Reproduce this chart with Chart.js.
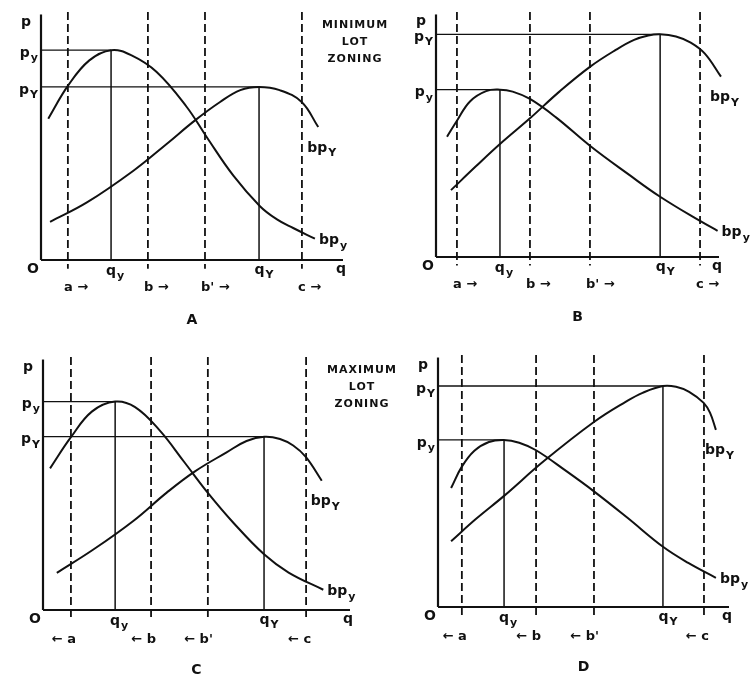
<!DOCTYPE html>
<html>
<head>
<meta charset="utf-8">
<script src="https://cdn.jsdelivr.net/npm/chart.js@4.4.0/dist/chart.umd.min.js"></script>
<style>
  body { margin: 0; background: #fff; }
  #wrap { position: relative; width: 752px; height: 684px; overflow: hidden; }
  canvas { position: absolute; }
</style>
</head>
<body>
<div id="wrap">
  <canvas id="chartA" width="400" height="342" style="left:0;top:0"></canvas>
  <canvas id="chartB" width="376" height="342" style="left:376px;top:0"></canvas>
  <canvas id="chartC" width="400" height="342" style="left:0;top:342px"></canvas>
  <canvas id="chartD" width="376" height="342" style="left:376px;top:342px"></canvas>
</div>
<script>
// q axis runs 0..10, p axis 0..10 in every panel
// dashed lot-size boundaries a, b, b', c
const dashA = [0.89, 3.54, 5.43, 8.64];
const dashB = [0.74, 3.32, 5.44, 9.33];
const dashC = [0.91, 3.52, 5.37, 8.57];
const dashD = [0.82, 3.37, 5.36, 9.14];

// [q_y, q_Y] and [p_y, p_Y]
const qA = [2.32, 7.22], pA = [8.46, 6.98];
const qB = [2.26, 7.92], pB = [6.83, 9.09];
const qC = [2.35, 7.20], pC = [8.24, 6.85];
const qD = [2.27, 7.73], pD = [6.63, 8.77];

// bp_y curves (small lot group)
const bpyAx = [0.24, 0.90, 1.60, 2.32, 3.00, 3.83, 4.82, 5.49, 6.37, 7.25, 7.80, 8.35, 9.07];
const bpyAy = [5.70, 7.04, 8.05, 8.46, 8.25, 7.58, 6.18, 4.95, 3.40, 2.17, 1.65, 1.29, 0.86];
const bpyBx = [0.39, 0.74, 1.20, 1.77, 2.26, 2.71, 3.32, 4.24, 5.45, 6.83, 7.92, 9.33, 9.95];
const bpyBy = [4.91, 5.56, 6.35, 6.77, 6.83, 6.75, 6.45, 5.70, 4.53, 3.35, 2.46, 1.47, 1.07];
const bpyCx = [0.23, 0.91, 1.60, 2.35, 3.00, 3.80, 4.60, 5.39, 6.20, 7.21, 8.00, 9.13];
const bpyCy = [5.60, 6.83, 7.85, 8.24, 8.02, 7.10, 5.85, 4.60, 3.45, 2.19, 1.48, 0.80];
const bpyDx = [0.45, 0.82, 1.25, 1.75, 2.26, 2.79, 3.37, 4.40, 5.37, 6.50, 7.72, 8.60, 9.55];
const bpyDy = [4.72, 5.57, 6.20, 6.55, 6.63, 6.52, 6.22, 5.40, 4.58, 3.55, 2.40, 1.75, 1.16];

// bp_Y curves (large lot group)
const bpYAx = [0.30, 1.52, 3.06, 4.16, 5.10, 5.93, 6.60, 7.22, 7.90, 8.63, 9.18];
const bpYAy = [1.54, 2.32, 3.60, 4.68, 5.63, 6.37, 6.85, 6.98, 6.85, 6.37, 5.36];
const bpYBx = [0.53, 1.41, 2.26, 3.32, 4.36, 5.45, 6.35, 7.00, 7.50, 7.92, 8.48, 9.00, 9.50, 10.07];
const bpYBy = [2.73, 3.70, 4.61, 5.66, 6.75, 7.77, 8.45, 8.86, 9.04, 9.09, 9.00, 8.75, 8.30, 7.36];
const bpYCx = [0.45, 1.64, 2.94, 4.03, 4.95, 5.98, 6.63, 7.21, 7.72, 8.15, 8.56, 9.08];
const bpYCy = [1.47, 2.39, 3.52, 4.64, 5.48, 6.23, 6.68, 6.85, 6.76, 6.50, 6.05, 5.11];
const bpYDx = [0.45, 1.31, 2.26, 3.65, 5.37, 6.46, 7.03, 7.73, 8.18, 8.63, 9.13, 9.35, 9.55];
const bpYDy = [2.61, 3.50, 4.40, 5.80, 7.35, 8.15, 8.50, 8.77, 8.74, 8.54, 8.10, 7.70, 7.03];

const arrowsMin = ["a \u2192", "b \u2192", "b' \u2192", "c \u2192"];
const arrowsMax = ["\u2190 a", "\u2190 b", "\u2190 b'", "\u2190 c"];
const noteMin = ["MINIMUM", "LOT", "ZONING"];
const noteMax = ["MAXIMUM", "LOT", "ZONING"];

const FONT = '"DejaVu Sans", sans-serif';
const INK = '#111';

function zip(xs, ys) {
    return xs.map((x, i) => ({ x: x, y: ys[i] }));
}

function seg(pts, width, dash) {
    return {
        data: pts, showLine: true, borderColor: INK, borderWidth: width,
        borderDash: dash || [], pointRadius: 0, clip: false
    };
}

// base letter with small subscript, e.g. p + y
function drawSub(ctx, base, sub, x, y, align) {
    ctx.font = 'bold 14px ' + FONT;
    const w1 = ctx.measureText(base).width;
    ctx.font = 'bold 11px ' + FONT;
    const w2 = sub ? ctx.measureText(sub).width + 1 : 0;
    let left = x;
    if (align === 'right') left = x - w1 - w2;
    if (align === 'center') left = x - (w1 + w2) / 2;
    ctx.textAlign = 'left';
    ctx.textBaseline = 'middle';
    ctx.font = 'bold 14px ' + FONT;
    ctx.fillText(base, left, y);
    if (sub) {
        ctx.font = 'bold 11px ' + FONT;
        ctx.fillText(sub, left + w1 + 1, y + 5);
    }
}

function makePanel(id, pad, dash, q, p, bpy, bpY, arrows, caption, note) {
    const datasets = [
        seg([{ x: 0, y: 0 }, { x: 10, y: 0 }], 2.2),
        seg([{ x: 0, y: 0 }, { x: 0, y: 9.9 }], 2.2),
        seg([{ x: 0, y: p[0] }, { x: q[0], y: p[0] }], 1.3),
        seg([{ x: 0, y: p[1] }, { x: q[1], y: p[1] }], 1.3),
        seg([{ x: q[0], y: 0 }, { x: q[0], y: p[0] }], 1.5),
        seg([{ x: q[1], y: 0 }, { x: q[1], y: p[1] }], 1.5)
    ];
    dash.forEach(d => datasets.push(seg([{ x: d, y: 10 }, { x: d, y: -0.35 }], 1.8, [8, 4])));
    const c1 = seg(bpy, 2);
    c1.tension = 0.4;
    const c2 = seg(bpY, 2);
    c2.tension = 0.4;
    datasets.push(c1, c2);

    const labels = {
        id: 'labels',
        afterDraw(chart) {
            const ctx = chart.ctx;
            const xs = chart.scales.x, ys = chart.scales.y;
            const X = v => xs.getPixelForValue(v);
            const Y = v => ys.getPixelForValue(v);
            const x0 = X(0), y0 = Y(0);
            ctx.save();
            ctx.fillStyle = INK;
            drawSub(ctx, 'p', '', x0 - 20, Y(9.6), 'left');
            drawSub(ctx, 'p', 'y', x0 - 3, Y(p[0]) + 3, 'right');
            drawSub(ctx, 'p', 'Y', x0 - 3, Y(p[1]) + 3, 'right');
            drawSub(ctx, 'O', '', x0 - 8, y0 + 9, 'center');
            drawSub(ctx, 'q', 'y', X(q[0]) + 4, y0 + 11, 'center');
            drawSub(ctx, 'q', 'Y', X(q[1]) + 5, y0 + 10, 'center');
            drawSub(ctx, 'q', '', X(10) - 2, y0 + 9, 'center');
            const e1 = bpy[bpy.length - 1], e2 = bpY[bpY.length - 1];
            drawSub(ctx, 'bp', 'y', X(e1.x) + 4, Y(e1.y) + 2, 'left');
            drawSub(ctx, 'bp', 'Y', X(e2.x) - 11, Y(e2.y) + 21, 'left');

            ctx.font = 'bold 13px ' + FONT;
            ctx.textBaseline = 'middle';
            arrows.forEach((t, i) => {
                if (t.charAt(0) === '\u2190') {
                    ctx.textAlign = 'right';
                    ctx.fillText(t, X(dash[i]) + 5, y0 + 30);
                } else {
                    ctx.textAlign = 'left';
                    ctx.fillText(t, X(dash[i]) - 4, y0 + 28);
                }
            });

            ctx.font = 'bold 14px ' + FONT;
            ctx.textAlign = 'center';
            ctx.fillText(caption, (x0 + X(10)) / 2, y0 + 60);

            if (note) {
                ctx.font = 'bold 11px ' + FONT;
                if ('letterSpacing' in ctx) ctx.letterSpacing = '1px';
                note.forEach((t, i) => ctx.fillText(t, X(10) + 12, Y(10) + 13 + i * 17));
            }
            ctx.restore();
        }
    };

    new Chart(document.getElementById(id), {
        type: 'scatter',
        data: { datasets: datasets },
        options: {
            responsive: false,
            animation: false,
            events: [],
            layout: { padding: pad },
            scales: {
                x: { type: 'linear', min: 0, max: 10, display: false },
                y: { type: 'linear', min: 0, max: 10, display: false }
            },
            plugins: { legend: { display: false }, tooltip: { enabled: false } }
        },
        plugins: [labels]
    });
}

makePanel('chartA', { left: 41, right: 57, top: 12, bottom: 82 }, dashA, qA, pA,
    zip(bpyAx, bpyAy), zip(bpYAx, bpYAy), arrowsMin, 'A', noteMin);
makePanel('chartB', { left: 60, right: 33, top: 12, bottom: 85 }, dashB, qB, pB,
    zip(bpyBx, bpyBy), zip(bpYBx, bpYBy), arrowsMin, 'B', null);
makePanel('chartC', { left: 43, right: 50, top: 15, bottom: 74 }, dashC, qC, pC,
    zip(bpyCx, bpyCy), zip(bpYCx, bpYCy), arrowsMax, 'C', noteMax);
makePanel('chartD', { left: 62, right: 23, top: 13, bottom: 77 }, dashD, qD, pD,
    zip(bpyDx, bpyDy), zip(bpYDx, bpYDy), arrowsMax, 'D', null);
</script>
</body>
</html>
